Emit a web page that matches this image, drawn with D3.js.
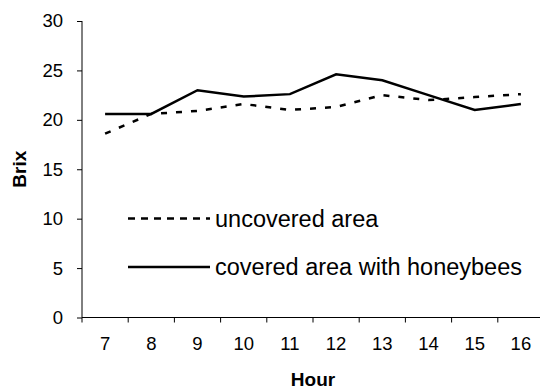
<!DOCTYPE html>
<html>
<head>
<meta charset="utf-8">
<script src="https://cdn.jsdelivr.net/npm/d3@7"></script>
<style>
  body { margin: 0; background: #fff; }
  svg { font-family: "Liberation Sans", Arial, sans-serif; }
</style>
</head>
<body>
<svg id="chart" width="540" height="389"></svg>
<script>
var hours = ["7", "8", "9", "10", "11", "12", "13", "14", "15", "16"];
var uncovered = [18.6, 20.6, 20.9, 21.6, 21.0, 21.3, 22.5, 22.0, 22.3, 22.6];
var covered = [20.6, 20.6, 23.0, 22.35, 22.6, 24.6, 24.0, 22.5, 21.0, 21.6];
var yTicks = [0, 5, 10, 15, 20, 25, 30];
var seriesNames = ["uncovered area", "covered area with honeybees"];

var margin = { top: 21, left: 82, bottom: 71.5, right: -4 },
    width = 540 - margin.left - margin.right,
    height = 389 - margin.top - margin.bottom;

var svg = d3.select("#chart");
var g = svg.append("g").attr("transform", "translate(" + margin.left + "," + margin.top + ")");

var x = d3.scaleBand().domain(hours).range([0, width]);
var y = d3.scaleLinear().domain([0, 30]).range([height, 0]);

// y axis
var yAxis = g.append("g")
    .call(d3.axisLeft(y).tickValues(yTicks).tickSize(5).tickPadding(14));
yAxis.select(".domain").attr("d", "M0," + height + "V0").attr("stroke", "#000");
yAxis.selectAll("text").style("font-size", "18.5px").attr("fill", "#000");

// x axis, ticks between the categories
var xAxis = g.append("g").attr("transform", "translate(0," + height + ")");
xAxis.append("line").attr("x1", 0).attr("x2", width).attr("stroke", "#000");
xAxis.selectAll(".tk")
    .data(hours)
    .enter().append("line")
    .attr("x1", function(d) { return x(d); })
    .attr("x2", function(d) { return x(d); })
    .attr("y1", 0).attr("y2", 5)
    .attr("stroke", "#000");
xAxis.selectAll(".lbl")
    .data(hours)
    .enter().append("text")
    .attr("x", function(d) { return x(d) + x.bandwidth() / 2; })
    .attr("y", 32.5)
    .attr("text-anchor", "middle")
    .style("font-size", "18.5px")
    .text(function(d) { return d; });

// axis titles
svg.append("text")
    .attr("transform", "translate(26," + (margin.top + height / 2) + ") rotate(-90)")
    .attr("text-anchor", "middle")
    .style("font-size", "19px").style("font-weight", "bold")
    .text("Brix");
svg.append("text")
    .attr("x", 313)
    .attr("y", 386)
    .attr("text-anchor", "middle")
    .style("font-size", "19px").style("font-weight", "bold")
    .text("Hour");

var line = d3.line()
    .x(function(d, i) { return x(hours[i]) + x.bandwidth() / 2; })
    .y(function(d) { return y(d); });

g.append("path").datum(uncovered)
    .attr("d", line)
    .attr("fill", "none").attr("stroke", "#000")
    .attr("stroke-width", 2.5).attr("stroke-dasharray", "6,9");
g.append("path").datum(covered)
    .attr("d", line)
    .attr("fill", "none").attr("stroke", "#000")
    .attr("stroke-width", 2.5);

// legend
var legend = svg.append("g");
var legY = [218.5, 267];
seriesNames.forEach(function(name, i) {
  legend.append("line")
    .attr("x1", 128).attr("x2", 210)
    .attr("y1", legY[i]).attr("y2", legY[i])
    .attr("stroke", "#000").attr("stroke-width", 2.5)
    .attr("stroke-dasharray", i == 0 ? "7,6" : null);
  legend.append("text")
    .attr("x", 215).attr("y", legY[i] + 8)
    .style("font-size", "23.5px")
    .text(name);
});
</script>
</body>
</html>
